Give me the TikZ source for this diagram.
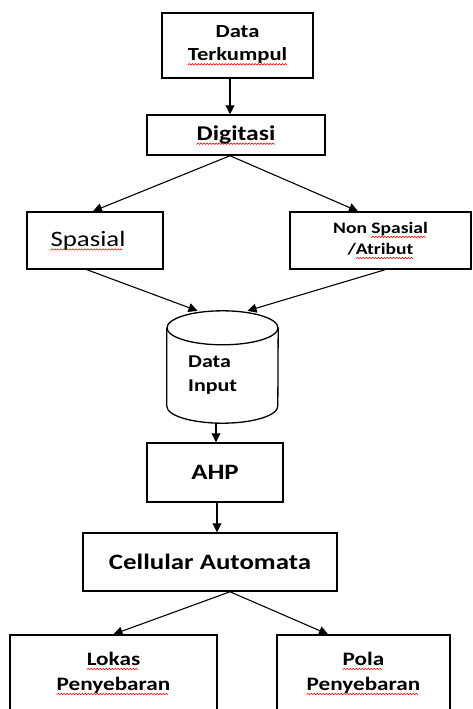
\documentclass[tikz,border=0pt]{standalone}
\usepackage{fontspec}
\usetikzlibrary{arrows.meta,positioning,calc}
\newfontfamily\boxfont[FakeStretch=1.22]{Carlito}
\newcommand\wavebit{\hbox to 3pt{\tikz[baseline=0pt, x=1pt, y=1pt]{\useasboundingbox (0,0) rectangle (3,1.5); \draw[red, line width=0.6pt] (0,0) -- (1.5,1.5) -- (3,0);}\hss}}
\newcommand\spell[1]{\setbox0\hbox{#1}\leavevmode\rlap{\lower4.2pt\hbox to\wd0{\leaders\wavebit\hfil}}\box0}

\begin{document}
\begin{tikzpicture}[x=1pt, y=-1pt,
          box/.style={draw, line width=1.5pt, fill=white, inner sep=2pt, align=center, text=black},
          arr/.style={-{Triangle[length=9pt,width=9pt]}, line width=1.1pt},
          cyl/.style={draw, line width=1.3pt}]
        \useasboundingbox (0,0) rectangle (472,709);
        \clip (0,0) rectangle (472,709);
        \node[box, minimum width=151, minimum height=65, font=\boxfont\bfseries\fontsize{18.5}{23}\selectfont] (data) at (237.5,45.5) {Data\\\spell{Terkumpul}};
        \node[box, minimum width=178, minimum height=40, font=\boxfont\bfseries\fontsize{21}{25}\selectfont] (digit) at (236,135) {\spell{Digitasi}};
        \node[box, minimum width=136, minimum height=57, font=\boxfont\fontsize{22}{26}\selectfont] (spasial) at (95,240.5) {\raisebox{3pt}{\spell{Spasial}}\hspace*{14pt}};
        \node[box, minimum width=181, minimum height=57, font=\boxfont\bfseries\fontsize{16}{21}\selectfont] (nonsp) at (380.5,240.5) {Non \spell{Spasial}\\/\spell{Atribut}};
        \node[minimum width=111, minimum height=112, inner sep=0] (dbase) at (222.5,367) {};
        \draw[cyl] ([yshift=-17pt]dbase.north) ellipse [x radius=55.5pt, y radius=17pt];
        \draw[cyl] ([yshift=-17pt]dbase.north west) -- ([yshift=17pt]dbase.south west)
          arc [start angle=180, end angle=360, x radius=55.5pt, y radius=17pt] -- ([yshift=-17pt]dbase.north east);
        \node[anchor=west, align=left, inner sep=0, font=\boxfont\bfseries\fontsize{18}{24}\selectfont] (dbtext) at (188,375) {Data\\Input};
        \node[box, minimum width=136, minimum height=59, font=\boxfont\bfseries\fontsize{22}{26}\selectfont] (ahp) at (215,472.5) {AHP};
        \node[box, minimum width=254, minimum height=58, font=\boxfont\bfseries\fontsize{22}{26}\selectfont] (cell) at (210,562) {Cellular Automata};
        \node[box, minimum width=207, minimum height=77, font=\boxfont\bfseries\fontsize{19}{25}\selectfont] (lokas) at (113.5,673.5) {\spell{Lokas}\\\spell{Penyebaran}};
        \node[box, minimum width=173, minimum height=77, font=\boxfont\bfseries\fontsize{19}{25}\selectfont] (pola) at (363.5,673.5) {\spell{Pola}\\\spell{Penyebaran}};
        \draw[arr] ([xshift=-7.5pt]data.south) -- ([xshift=-6pt]digit.north);
        \draw[arr] ([xshift=-6pt]digit.south) -- ([xshift=-2pt]spasial.north);
        \draw[arr] ([xshift=-6pt]digit.south) -- ([xshift=-22.5pt]nonsp.north);
        \draw[arr] ([xshift=-8pt]spasial.south) -- ([xshift=-25pt]dbase.north);
        \draw[arr] ([xshift=4.5pt]nonsp.south) -- ([xshift=25pt]dbase.north);
        \draw[arr] ([xshift=-6.5pt]dbase.south) -- ([xshift=-6.5pt]dbase.south |- ahp.north);
        \draw[arr] ([xshift=2pt]ahp.south) -- ([xshift=2pt]ahp.south |- cell.north);
        \draw[arr] ([xshift=20pt]cell.south) -- (lokas.north);
        \draw[arr] ([xshift=20pt]cell.south) -- ([xshift=-35.5pt]pola.north);
      \end{tikzpicture}
\end{document}
